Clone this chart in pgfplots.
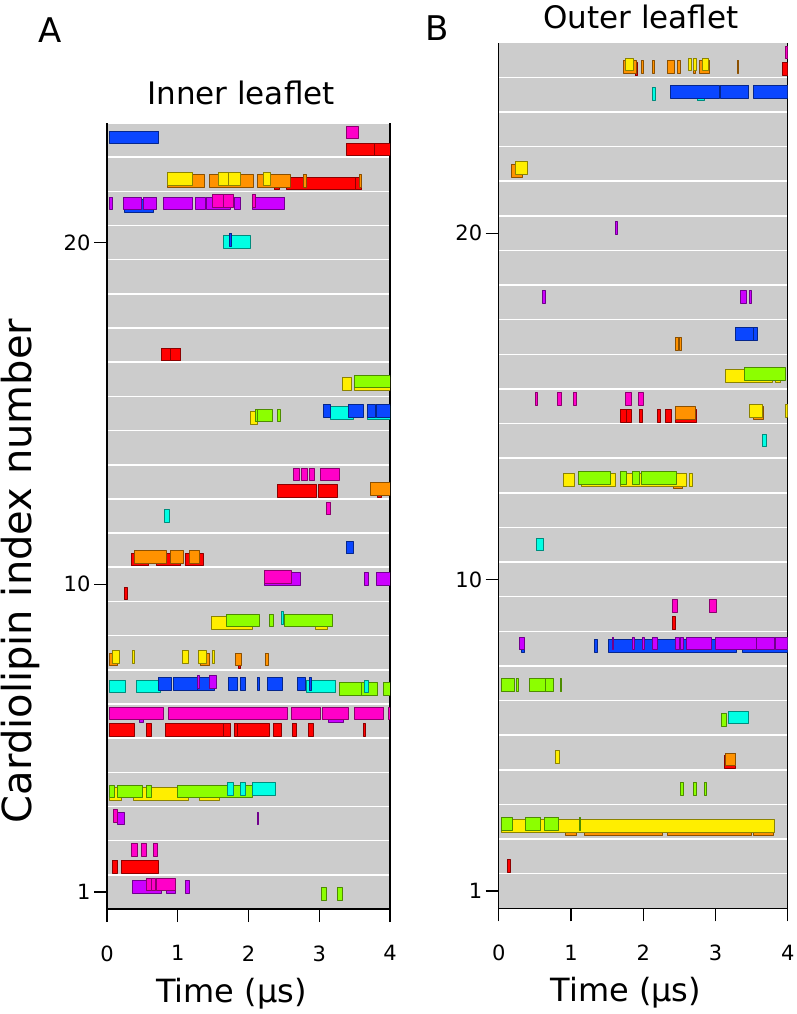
\documentclass[border=0pt]{standalone}
\usepackage{fontspec}
\setmainfont{DejaVu Sans}
\usepackage{pgfplots}
\pgfplotsset{compat=1.18}
\usepackage{pgfplotstable}

% one colour per protein copy, lowest layer first
\pgfplotsset{colormap={ev}{rgb255=(255,0,0) rgb255=(255,146,0) rgb255=(255,238,0)
  rgb255=(140,255,0) rgb255=(0,255,228) rgb255=(10,70,255) rgb255=(204,0,255) rgb255=(255,0,200)}}

% one event per line: its four corners (x = time, r = lipin index, c = colour)
\pgfplotstableread[row sep=\\]{
x r c\\
3.38 23 0\\ 3.78 23 0\\ 3.78 23 0\\ 3.38 23 0\\
3.78 23 0\\ 4.00 23 0\\ 4.00 23 0\\ 3.78 23 0\\
2.36 22 0\\ 2.43 22 0\\ 2.43 22 0\\ 2.36 22 0\\
2.54 22 0\\ 3.51 22 0\\ 3.51 22 0\\ 2.54 22 0\\
3.51 22 0\\ 3.60 22 0\\ 3.60 22 0\\ 3.51 22 0\\
0.77 17 0\\ 0.89 17 0\\ 0.89 17 0\\ 0.77 17 0\\
0.89 17 0\\ 1.04 17 0\\ 1.04 17 0\\ 0.89 17 0\\
2.41 13 0\\ 2.96 13 0\\ 2.96 13 0\\ 2.41 13 0\\
2.98 13 0\\ 3.26 13 0\\ 3.26 13 0\\ 2.98 13 0\\
3.82 13 0\\ 3.87 13 0\\ 3.87 13 0\\ 3.82 13 0\\
0.34 11 0\\ 0.59 11 0\\ 0.59 11 0\\ 0.34 11 0\\
0.70 11 0\\ 1.04 11 0\\ 1.04 11 0\\ 0.70 11 0\\
1.10 11 0\\ 1.36 11 0\\ 1.36 11 0\\ 1.10 11 0\\
0.24 10 0\\ 0.28 10 0\\ 0.28 10 0\\ 0.24 10 0\\
1.85 8 0\\ 1.89 8 0\\ 1.89 8 0\\ 1.85 8 0\\
0.03 6 0\\ 0.38 6 0\\ 0.38 6 0\\ 0.03 6 0\\
0.56 6 0\\ 0.63 6 0\\ 0.63 6 0\\ 0.56 6 0\\
0.82 6 0\\ 1.64 6 0\\ 1.64 6 0\\ 0.82 6 0\\
1.64 6 0\\ 1.74 6 0\\ 1.74 6 0\\ 1.64 6 0\\
1.80 6 0\\ 1.84 6 0\\ 1.84 6 0\\ 1.80 6 0\\
1.84 6 0\\ 2.30 6 0\\ 2.30 6 0\\ 1.84 6 0\\
2.35 6 0\\ 2.46 6 0\\ 2.46 6 0\\ 2.35 6 0\\
2.62 6 0\\ 2.67 6 0\\ 2.67 6 0\\ 2.62 6 0\\
2.85 6 0\\ 2.91 6 0\\ 2.91 6 0\\ 2.85 6 0\\
3.62 6 0\\ 3.65 6 0\\ 3.65 6 0\\ 3.62 6 0\\
0.08 2 0\\ 0.15 2 0\\ 0.15 2 0\\ 0.08 2 0\\
0.20 2 0\\ 0.72 2 0\\ 0.72 2 0\\ 0.20 2 0\\
0.85 22 1\\ 1.37 22 1\\ 1.37 22 1\\ 0.85 22 1\\
1.44 22 1\\ 2.07 22 1\\ 2.07 22 1\\ 1.44 22 1\\
2.12 22 1\\ 2.59 22 1\\ 2.59 22 1\\ 2.12 22 1\\
2.77 22 1\\ 2.81 22 1\\ 2.81 22 1\\ 2.77 22 1\\
3.56 22 1\\ 3.60 22 1\\ 3.60 22 1\\ 3.56 22 1\\
3.72 13 1\\ 4.00 13 1\\ 4.00 13 1\\ 3.72 13 1\\
0.38 11 1\\ 0.84 11 1\\ 0.84 11 1\\ 0.38 11 1\\
0.90 11 1\\ 1.08 11 1\\ 1.08 11 1\\ 0.90 11 1\\
1.17 11 1\\ 1.31 11 1\\ 1.31 11 1\\ 1.17 11 1\\
0.03 8 1\\ 0.14 8 1\\ 0.14 8 1\\ 0.03 8 1\\
1.32 8 1\\ 1.45 8 1\\ 1.45 8 1\\ 1.32 8 1\\
1.82 8 1\\ 1.90 8 1\\ 1.90 8 1\\ 1.82 8 1\\
2.24 8 1\\ 2.28 8 1\\ 2.28 8 1\\ 2.24 8 1\\
0.85 22 2\\ 1.21 22 2\\ 1.21 22 2\\ 0.85 22 2\\
1.57 22 2\\ 1.72 22 2\\ 1.72 22 2\\ 1.57 22 2\\
1.72 22 2\\ 1.89 22 2\\ 1.89 22 2\\ 1.72 22 2\\
2.21 22 2\\ 2.31 22 2\\ 2.31 22 2\\ 2.21 22 2\\
3.32 16 2\\ 3.46 16 2\\ 3.46 16 2\\ 3.32 16 2\\
3.50 16 2\\ 4.00 16 2\\ 4.00 16 2\\ 3.50 16 2\\
2.03 15 2\\ 2.12 15 2\\ 2.12 15 2\\ 2.03 15 2\\
1.47 9 2\\ 2.05 9 2\\ 2.05 9 2\\ 1.47 9 2\\
2.95 9 2\\ 3.12 9 2\\ 3.12 9 2\\ 2.95 9 2\\
0.08 8 2\\ 0.18 8 2\\ 0.18 8 2\\ 0.08 8 2\\
0.36 8 2\\ 0.38 8 2\\ 0.38 8 2\\ 0.36 8 2\\
1.06 8 2\\ 1.15 8 2\\ 1.15 8 2\\ 1.06 8 2\\
1.29 8 2\\ 1.41 8 2\\ 1.41 8 2\\ 1.29 8 2\\
1.49 8 2\\ 1.51 8 2\\ 1.51 8 2\\ 1.49 8 2\\
0.03 4 2\\ 0.20 4 2\\ 0.20 4 2\\ 0.03 4 2\\
0.37 4 2\\ 1.15 4 2\\ 1.15 4 2\\ 0.37 4 2\\
1.30 4 2\\ 1.59 4 2\\ 1.59 4 2\\ 1.30 4 2\\
3.50 16 3\\ 4.00 16 3\\ 4.00 16 3\\ 3.50 16 3\\
2.09 15 3\\ 2.12 15 3\\ 2.12 15 3\\ 2.09 15 3\\
2.13 15 3\\ 2.33 15 3\\ 2.33 15 3\\ 2.13 15 3\\
2.41 15 3\\ 2.45 15 3\\ 2.45 15 3\\ 2.41 15 3\\
1.69 9 3\\ 2.15 9 3\\ 2.15 9 3\\ 1.69 9 3\\
2.30 9 3\\ 2.35 9 3\\ 2.35 9 3\\ 2.30 9 3\\
2.51 9 3\\ 3.19 9 3\\ 3.19 9 3\\ 2.51 9 3\\
3.28 7 3\\ 3.59 7 3\\ 3.59 7 3\\ 3.28 7 3\\
3.60 7 3\\ 3.82 7 3\\ 3.82 7 3\\ 3.60 7 3\\
3.90 7 3\\ 4.00 7 3\\ 4.00 7 3\\ 3.90 7 3\\
0.03 4 3\\ 0.10 4 3\\ 0.10 4 3\\ 0.03 4 3\\
0.15 4 3\\ 0.50 4 3\\ 0.50 4 3\\ 0.15 4 3\\
0.55 4 3\\ 0.62 4 3\\ 0.62 4 3\\ 0.55 4 3\\
0.99 4 3\\ 2.05 4 3\\ 2.05 4 3\\ 0.99 4 3\\
3.03 1 3\\ 3.10 1 3\\ 3.10 1 3\\ 3.03 1 3\\
3.25 1 3\\ 3.32 1 3\\ 3.32 1 3\\ 3.25 1 3\\
1.65 20 4\\ 2.02 20 4\\ 2.02 20 4\\ 1.65 20 4\\
3.16 15 4\\ 3.48 15 4\\ 3.48 15 4\\ 3.16 15 4\\
3.68 15 4\\ 4.00 15 4\\ 4.00 15 4\\ 3.68 15 4\\
0.81 12 4\\ 0.88 12 4\\ 0.88 12 4\\ 0.81 12 4\\
2.47 9 4\\ 2.49 9 4\\ 2.49 9 4\\ 2.47 9 4\\
0.03 7 4\\ 0.26 7 4\\ 0.26 7 4\\ 0.03 7 4\\
0.42 7 4\\ 0.75 7 4\\ 0.75 7 4\\ 0.42 7 4\\
2.82 7 4\\ 3.23 7 4\\ 3.23 7 4\\ 2.82 7 4\\
3.63 7 4\\ 3.69 7 4\\ 3.69 7 4\\ 3.63 7 4\\
1.70 4 4\\ 1.78 4 4\\ 1.78 4 4\\ 1.70 4 4\\
1.89 4 4\\ 1.96 4 4\\ 1.96 4 4\\ 1.89 4 4\\
2.05 4 4\\ 2.38 4 4\\ 2.38 4 4\\ 2.05 4 4\\
0.03 23 5\\ 0.73 23 5\\ 0.73 23 5\\ 0.03 23 5\\
0.25 21 5\\ 0.66 21 5\\ 0.66 21 5\\ 0.25 21 5\\
1.73 20 5\\ 1.76 20 5\\ 1.76 20 5\\ 1.73 20 5\\
3.06 15 5\\ 3.15 15 5\\ 3.15 15 5\\ 3.06 15 5\\
3.41 15 5\\ 3.62 15 5\\ 3.62 15 5\\ 3.41 15 5\\
3.68 15 5\\ 3.79 15 5\\ 3.79 15 5\\ 3.68 15 5\\
3.81 15 5\\ 4.00 15 5\\ 4.00 15 5\\ 3.81 15 5\\
3.38 11 5\\ 3.48 11 5\\ 3.48 11 5\\ 3.38 11 5\\
0.73 7 5\\ 0.91 7 5\\ 0.91 7 5\\ 0.73 7 5\\
0.94 7 5\\ 1.28 7 5\\ 1.28 7 5\\ 0.94 7 5\\
1.28 7 5\\ 1.51 7 5\\ 1.51 7 5\\ 1.28 7 5\\
1.72 7 5\\ 1.84 7 5\\ 1.84 7 5\\ 1.72 7 5\\
1.89 7 5\\ 1.96 7 5\\ 1.96 7 5\\ 1.89 7 5\\
2.13 7 5\\ 2.15 7 5\\ 2.15 7 5\\ 2.13 7 5\\
2.26 7 5\\ 2.48 7 5\\ 2.48 7 5\\ 2.26 7 5\\
2.69 7 5\\ 2.80 7 5\\ 2.80 7 5\\ 2.69 7 5\\
2.86 7 5\\ 2.89 7 5\\ 2.89 7 5\\ 2.86 7 5\\
0.03 21 6\\ 0.08 21 6\\ 0.08 21 6\\ 0.03 21 6\\
0.23 21 6\\ 0.48 21 6\\ 0.48 21 6\\ 0.23 21 6\\
0.51 21 6\\ 0.70 21 6\\ 0.70 21 6\\ 0.51 21 6\\
0.79 21 6\\ 1.21 21 6\\ 1.21 21 6\\ 0.79 21 6\\
1.25 21 6\\ 1.39 21 6\\ 1.39 21 6\\ 1.25 21 6\\
1.40 21 6\\ 1.74 21 6\\ 1.74 21 6\\ 1.40 21 6\\
1.80 21 6\\ 1.89 21 6\\ 1.89 21 6\\ 1.80 21 6\\
2.05 21 6\\ 2.51 21 6\\ 2.51 21 6\\ 2.05 21 6\\
2.23 10 6\\ 2.73 10 6\\ 2.73 10 6\\ 2.23 10 6\\
3.63 10 6\\ 3.70 10 6\\ 3.70 10 6\\ 3.63 10 6\\
3.80 10 6\\ 4.00 10 6\\ 4.00 10 6\\ 3.80 10 6\\
1.28 7 6\\ 1.30 7 6\\ 1.30 7 6\\ 1.28 7 6\\
1.45 7 6\\ 1.54 7 6\\ 1.54 7 6\\ 1.45 7 6\\
0.45 6 6\\ 0.51 6 6\\ 0.51 6 6\\ 0.45 6 6\\
3.13 6 6\\ 3.34 6 6\\ 3.34 6 6\\ 3.13 6 6\\
0.15 3 6\\ 0.24 3 6\\ 0.24 3 6\\ 0.15 3 6\\
2.12 3 6\\ 2.14 3 6\\ 2.14 3 6\\ 2.12 3 6\\
0.36 1 6\\ 0.77 1 6\\ 0.77 1 6\\ 0.36 1 6\\
0.84 1 6\\ 0.96 1 6\\ 0.96 1 6\\ 0.84 1 6\\
1.10 1 6\\ 1.16 1 6\\ 1.16 1 6\\ 1.10 1 6\\
3.38 23 7\\ 3.55 23 7\\ 3.55 23 7\\ 3.38 23 7\\
1.49 21 7\\ 1.64 21 7\\ 1.64 21 7\\ 1.49 21 7\\
1.64 21 7\\ 1.79 21 7\\ 1.79 21 7\\ 1.64 21 7\\
2.05 21 7\\ 2.10 21 7\\ 2.10 21 7\\ 2.05 21 7\\
2.63 13 7\\ 2.72 13 7\\ 2.72 13 7\\ 2.63 13 7\\
2.74 13 7\\ 2.83 13 7\\ 2.83 13 7\\ 2.74 13 7\\
2.86 13 7\\ 2.93 13 7\\ 2.93 13 7\\ 2.86 13 7\\
3.01 13 7\\ 3.28 13 7\\ 3.28 13 7\\ 3.01 13 7\\
3.10 12 7\\ 3.16 12 7\\ 3.16 12 7\\ 3.10 12 7\\
2.23 10 7\\ 2.60 10 7\\ 2.60 10 7\\ 2.23 10 7\\
0.03 6 7\\ 0.79 6 7\\ 0.79 6 7\\ 0.03 6 7\\
0.87 6 7\\ 2.55 6 7\\ 2.55 6 7\\ 0.87 6 7\\
2.60 6 7\\ 3.02 6 7\\ 3.02 6 7\\ 2.60 6 7\\
3.04 6 7\\ 3.41 6 7\\ 3.41 6 7\\ 3.04 6 7\\
3.50 6 7\\ 3.91 6 7\\ 3.91 6 7\\ 3.50 6 7\\
3.97 6 7\\ 4.00 6 7\\ 4.00 6 7\\ 3.97 6 7\\
0.09 3 7\\ 0.15 3 7\\ 0.15 3 7\\ 0.09 3 7\\
0.35 2 7\\ 0.43 2 7\\ 0.43 2 7\\ 0.35 2 7\\
0.49 2 7\\ 0.55 2 7\\ 0.55 2 7\\ 0.49 2 7\\
0.66 2 7\\ 0.71 2 7\\ 0.71 2 7\\ 0.66 2 7\\
0.56 1 7\\ 0.62 1 7\\ 0.62 1 7\\ 0.56 1 7\\
0.62 1 7\\ 0.68 1 7\\ 0.68 1 7\\ 0.62 1 7\\
0.69 1 7\\ 0.96 1 7\\ 0.96 1 7\\ 0.69 1 7\\
}\inner

\pgfplotstableread[row sep=\\]{
x r c\\
3.93 25 0\\ 4.00 25 0\\ 4.00 25 0\\ 3.93 25 0\\
1.89 25 0\\ 1.92 25 0\\ 1.92 25 0\\ 1.89 25 0\\
1.68 15 0\\ 1.77 15 0\\ 1.77 15 0\\ 1.68 15 0\\
1.77 15 0\\ 1.83 15 0\\ 1.83 15 0\\ 1.77 15 0\\
1.95 15 0\\ 1.99 15 0\\ 1.99 15 0\\ 1.95 15 0\\
2.20 15 0\\ 2.23 15 0\\ 2.23 15 0\\ 2.20 15 0\\
2.31 15 0\\ 2.39 15 0\\ 2.39 15 0\\ 2.31 15 0\\
2.45 15 0\\ 2.73 15 0\\ 2.73 15 0\\ 2.45 15 0\\
2.40 9 0\\ 2.45 9 0\\ 2.45 9 0\\ 2.40 9 0\\
3.12 5 0\\ 3.27 5 0\\ 3.27 5 0\\ 3.12 5 0\\
0.12 2 0\\ 0.16 2 0\\ 0.16 2 0\\ 0.12 2 0\\
1.72 25 1\\ 1.90 25 1\\ 1.90 25 1\\ 1.72 25 1\\
1.98 25 1\\ 2.00 25 1\\ 2.00 25 1\\ 1.98 25 1\\
2.12 25 1\\ 2.15 25 1\\ 2.15 25 1\\ 2.12 25 1\\
2.33 25 1\\ 2.43 25 1\\ 2.43 25 1\\ 2.33 25 1\\
2.47 25 1\\ 2.51 25 1\\ 2.51 25 1\\ 2.47 25 1\\
2.69 25 1\\ 2.72 25 1\\ 2.72 25 1\\ 2.69 25 1\\
2.78 25 1\\ 2.92 25 1\\ 2.92 25 1\\ 2.78 25 1\\
3.30 25 1\\ 3.32 25 1\\ 3.32 25 1\\ 3.30 25 1\\
0.17 22 1\\ 0.32 22 1\\ 0.32 22 1\\ 0.17 22 1\\
2.45 17 1\\ 2.49 17 1\\ 2.49 17 1\\ 2.45 17 1\\
2.50 17 1\\ 2.53 17 1\\ 2.53 17 1\\ 2.50 17 1\\
2.45 15 1\\ 2.72 15 1\\ 2.72 15 1\\ 2.45 15 1\\
3.53 15 1\\ 3.66 15 1\\ 3.66 15 1\\ 3.53 15 1\\
2.42 13 1\\ 2.54 13 1\\ 2.54 13 1\\ 2.42 13 1\\
3.14 5 1\\ 3.28 5 1\\ 3.28 5 1\\ 3.14 5 1\\
0.92 3 1\\ 1.08 3 1\\ 1.08 3 1\\ 0.92 3 1\\
1.18 3 1\\ 2.27 3 1\\ 2.27 3 1\\ 1.18 3 1\\
2.33 3 1\\ 3.49 3 1\\ 3.49 3 1\\ 2.33 3 1\\
3.53 3 1\\ 3.80 3 1\\ 3.80 3 1\\ 3.53 3 1\\
1.75 25 2\\ 1.86 25 2\\ 1.86 25 2\\ 1.75 25 2\\
2.62 25 2\\ 2.66 25 2\\ 2.66 25 2\\ 2.62 25 2\\
2.69 25 2\\ 2.73 25 2\\ 2.73 25 2\\ 2.69 25 2\\
2.82 25 2\\ 2.90 25 2\\ 2.90 25 2\\ 2.82 25 2\\
0.23 22 2\\ 0.39 22 2\\ 0.39 22 2\\ 0.23 22 2\\
3.14 16 2\\ 3.78 16 2\\ 3.78 16 2\\ 3.14 16 2\\
3.83 16 2\\ 3.90 16 2\\ 3.90 16 2\\ 3.83 16 2\\
3.47 15 2\\ 3.65 15 2\\ 3.65 15 2\\ 3.47 15 2\\
3.97 15 2\\ 4.00 15 2\\ 4.00 15 2\\ 3.97 15 2\\
0.89 13 2\\ 1.04 13 2\\ 1.04 13 2\\ 0.89 13 2\\
1.14 13 2\\ 1.62 13 2\\ 1.62 13 2\\ 1.14 13 2\\
1.68 13 2\\ 2.60 13 2\\ 2.60 13 2\\ 1.68 13 2\\
2.64 13 2\\ 2.68 13 2\\ 2.68 13 2\\ 2.64 13 2\\
0.79 5 2\\ 0.84 5 2\\ 0.84 5 2\\ 0.79 5 2\\
0.03 3 2\\ 3.82 3 2\\ 3.82 3 2\\ 0.03 3 2\\
3.40 16 3\\ 3.96 16 3\\ 3.96 16 3\\ 3.40 16 3\\
1.10 13 3\\ 1.54 13 3\\ 1.54 13 3\\ 1.10 13 3\\
1.68 13 3\\ 1.76 13 3\\ 1.76 13 3\\ 1.68 13 3\\
1.85 13 3\\ 1.95 13 3\\ 1.95 13 3\\ 1.85 13 3\\
1.98 13 3\\ 2.46 13 3\\ 2.46 13 3\\ 1.98 13 3\\
0.03 7 3\\ 0.22 7 3\\ 0.22 7 3\\ 0.03 7 3\\
0.25 7 3\\ 0.27 7 3\\ 0.27 7 3\\ 0.25 7 3\\
0.43 7 3\\ 0.65 7 3\\ 0.65 7 3\\ 0.43 7 3\\
0.65 7 3\\ 0.75 7 3\\ 0.75 7 3\\ 0.65 7 3\\
0.85 7 3\\ 0.87 7 3\\ 0.87 7 3\\ 0.85 7 3\\
3.08 6 3\\ 3.15 6 3\\ 3.15 6 3\\ 3.08 6 3\\
2.51 4 3\\ 2.55 4 3\\ 2.55 4 3\\ 2.51 4 3\\
2.69 4 3\\ 2.74 4 3\\ 2.74 4 3\\ 2.69 4 3\\
2.84 4 3\\ 2.88 4 3\\ 2.88 4 3\\ 2.84 4 3\\
0.03 3 3\\ 0.19 3 3\\ 0.19 3 3\\ 0.03 3 3\\
0.37 3 3\\ 0.57 3 3\\ 0.57 3 3\\ 0.37 3 3\\
0.63 3 3\\ 0.83 3 3\\ 0.83 3 3\\ 0.63 3 3\\
1.11 3 3\\ 1.13 3 3\\ 1.13 3 3\\ 1.11 3 3\\
2.13 24 4\\ 2.17 24 4\\ 2.17 24 4\\ 2.13 24 4\\
2.75 24 4\\ 2.84 24 4\\ 2.84 24 4\\ 2.75 24 4\\
3.65 14 4\\ 3.70 14 4\\ 3.70 14 4\\ 3.65 14 4\\
0.52 11 4\\ 0.62 11 4\\ 0.62 11 4\\ 0.52 11 4\\
3.18 6 4\\ 3.45 6 4\\ 3.45 6 4\\ 3.18 6 4\\
2.37 24 5\\ 3.05 24 5\\ 3.05 24 5\\ 2.37 24 5\\
3.07 24 5\\ 3.46 24 5\\ 3.46 24 5\\ 3.07 24 5\\
3.52 24 5\\ 4.00 24 5\\ 4.00 24 5\\ 3.52 24 5\\
3.27 17 5\\ 3.53 17 5\\ 3.53 17 5\\ 3.27 17 5\\
3.53 17 5\\ 3.58 17 5\\ 3.58 17 5\\ 3.53 17 5\\
0.31 8 5\\ 0.35 8 5\\ 0.35 8 5\\ 0.31 8 5\\
1.33 8 5\\ 1.36 8 5\\ 1.36 8 5\\ 1.33 8 5\\
1.52 8 5\\ 3.29 8 5\\ 3.29 8 5\\ 1.52 8 5\\
3.37 8 5\\ 4.00 8 5\\ 4.00 8 5\\ 3.37 8 5\\
1.61 20 6\\ 1.64 20 6\\ 1.64 20 6\\ 1.61 20 6\\
0.60 18 6\\ 0.65 18 6\\ 0.65 18 6\\ 0.60 18 6\\
3.35 18 6\\ 3.42 18 6\\ 3.42 18 6\\ 3.35 18 6\\
3.47 18 6\\ 3.49 18 6\\ 3.49 18 6\\ 3.47 18 6\\
0.28 8 6\\ 0.35 8 6\\ 0.35 8 6\\ 0.28 8 6\\
1.57 8 6\\ 1.59 8 6\\ 1.59 8 6\\ 1.57 8 6\\
1.85 8 6\\ 1.87 8 6\\ 1.87 8 6\\ 1.85 8 6\\
1.99 8 6\\ 2.01 8 6\\ 2.01 8 6\\ 1.99 8 6\\
2.12 8 6\\ 2.19 8 6\\ 2.19 8 6\\ 2.12 8 6\\
2.44 8 6\\ 2.50 8 6\\ 2.50 8 6\\ 2.44 8 6\\
2.52 8 6\\ 2.55 8 6\\ 2.55 8 6\\ 2.52 8 6\\
2.60 8 6\\ 2.94 8 6\\ 2.94 8 6\\ 2.60 8 6\\
3.00 8 6\\ 3.56 8 6\\ 3.56 8 6\\ 3.00 8 6\\
3.56 8 6\\ 3.82 8 6\\ 3.82 8 6\\ 3.56 8 6\\
3.83 8 6\\ 4.00 8 6\\ 4.00 8 6\\ 3.83 8 6\\
3.96 25 7\\ 4.00 25 7\\ 4.00 25 7\\ 3.96 25 7\\
0.51 15 7\\ 0.53 15 7\\ 0.53 15 7\\ 0.51 15 7\\
0.81 15 7\\ 0.87 15 7\\ 0.87 15 7\\ 0.81 15 7\\
1.03 15 7\\ 1.08 15 7\\ 1.08 15 7\\ 1.03 15 7\\
1.75 15 7\\ 1.83 15 7\\ 1.83 15 7\\ 1.75 15 7\\
1.93 15 7\\ 2.00 15 7\\ 2.00 15 7\\ 1.93 15 7\\
2.40 9 7\\ 2.47 9 7\\ 2.47 9 7\\ 2.40 9 7\\
2.91 9 7\\ 3.01 9 7\\ 3.01 9 7\\ 2.91 9 7\\
}\outer

\pgfplotsset{
  lanes/.style={
    scale only axis, anchor=south west,
    xmin=0, xmax=4, ymin=0.5,
    xtick={0,1,2,3,4}, ytick={1,10,20},
    minor ytick={1.5,2.5,...,24.5},
    yminorgrids, minor y grid style={white, line width=1.6pt},
    minor tick length=0pt, major tick length=13pt,
    tick align=outside, xtick pos=bottom, ytick pos=left,
    axis background/.style={fill=black!20},
    axis x line*=bottom, axis y line*=box,
    axis line style={-, line width=1.4pt},
    major tick style={line width=1.2pt, black},
    ticklabel style={font=\fontsize{21}{24}\selectfont},
    xticklabel shift=20pt,
    /pgf/number format/assume math mode=true,
    colormap name=ev,
    xlabel={Time (μs)},
    xlabel style={font=\fontsize{32}{36}\selectfont, at={(axis description cs:0.44,0)}, anchor=base, yshift=-93pt},
  },
  % rectangles: 4 corners each, lower edge first; layer height 0.37, shifted 0.07 per colour
  events/.style={patch, patch type=rectangle, shader=faceted,
    faceted color=mapped color!55!black, line width=0.6pt,
    colormap access=direct, point meta=explicit},
}

\begin{document}
\begin{tikzpicture}
\path[use as bounding box] (0,0) rectangle (796pt,1014pt);

\begin{axis}[lanes, at={(107pt,105pt)}, width=283pt, height=786pt, ymax=23.5]
\addplot[events] table[x=x, y expr={\thisrow{r}-0.45+0.07*\thisrow{c}+0.37*(mod(\coordindex,4)>1.5)*(mod(\coordindex,4)<3.5)}, meta=c] {\inner};
\end{axis}

\begin{axis}[lanes, at={(498.7pt,105.7pt)}, width=289pt, height=865.6pt, ymax=25.5]
\addplot[events] table[x=x, y expr={\thisrow{r}-0.45+0.07*\thisrow{c}+0.37*(mod(\coordindex,4)>1.5)*(mod(\coordindex,4)<3.5)}, meta=c] {\outer};
\end{axis}

\node[anchor=base, font=\fontsize{31}{36}\selectfont] at (241pt,909pt) {Inner leaflet};
\node[anchor=base, font=\fontsize{31}{36}\selectfont] at (641pt,985pt) {Outer leaflet};
\node[anchor=base west, inner sep=0pt, font=\fontsize{34}{40}\selectfont] at (38pt,971pt) {A};
\node[anchor=base west, inner sep=0pt, font=\fontsize{34}{40}\selectfont] at (425pt,973pt) {B};
\node[rotate=90, anchor=base, font=\fontsize{40}{46}\selectfont] at (31pt,443pt) {Cardiolipin index number};
\end{tikzpicture}
\end{document}
